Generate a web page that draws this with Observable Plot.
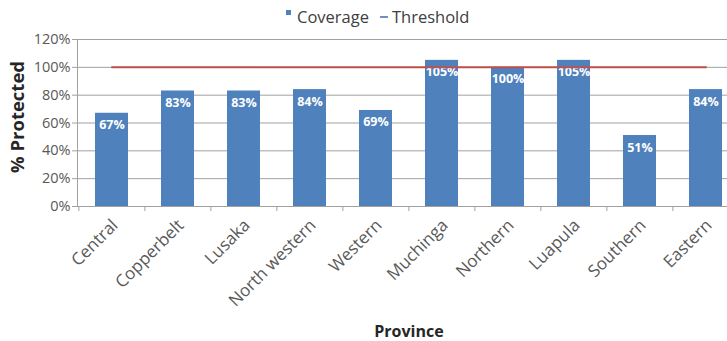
<!DOCTYPE html>
<html>
<head>
<meta charset="utf-8">
<script src="https://cdn.jsdelivr.net/npm/d3@7"></script>
<script src="https://cdn.jsdelivr.net/npm/@observablehq/plot@0.6"></script>
<style>
  body { margin: 0; background: #fff; font-family: "Open Sans", sans-serif; }
  #wrap { position: relative; width: 727px; height: 341px; overflow: hidden; background: #fff; }
  #legend { position: absolute; top: 5px; left: 286px; font-size: 16.5px; line-height: 24px; color: #404040; white-space: nowrap; }
  #legend .sq { display: inline-block; width: 5px; height: 5px; background: #4F81BD; vertical-align: 8px; margin-right: 6px; }
  #legend .dash { display: inline-block; width: 8px; height: 2px; background: #6F8FC4; vertical-align: 5px; margin: 0 4px 0 11px; }
  #chart { position: absolute; top: 30px; left: 0; width: 760px; }
</style>
</head>
<body>
<div id="wrap">
  <div id="legend"><span class="sq"></span>Coverage<span class="dash"></span>Threshold</div>
  <div id="chart"></div>
</div>
<script>
// Provinces and the share of the target population protected (%)
const provinces = ["Central", "Copperbelt", "Lusaka", "North western", "Western",
                   "Muchinga", "Northern", "Luapula", "Southern", "Eastern"];
const coverage  = [67, 83, 83, 84, 69, 105, 100, 105, 51, 84];
const threshold = [100, 100, 100, 100, 100, 100, 100, 100, 100, 100];
const yTicks    = [0, 20, 40, 60, 80, 100, 120];

const rows = provinces.map((p, i) => ({ province: p, coverage: coverage[i], threshold: threshold[i] }));

const W = 760, H = 311, ml = 77, mr = 20, mt = 9, mb = 135;
const step = (W - ml - mr) / provinces.length;
const grid = "#a0a0a0";

const chart = Plot.plot({
  width: W,
  height: H,
  marginLeft: ml,
  marginRight: mr,
  marginTop: mt,
  marginBottom: mb,
  style: { fontFamily: "Open Sans, sans-serif", background: "transparent", overflow: "visible", maxWidth: "none" },
  x: { domain: provinces, paddingInner: 0.5, paddingOuter: 0.25, label: null, axis: null },
  y: { domain: [0, 120], label: null, axis: null },
  marks: [
    Plot.gridY(yTicks, { stroke: grid, strokeOpacity: 1 }),
    Plot.frame({ anchor: "left", stroke: grid }),
    Plot.ruleY([0], { stroke: grid }),
    Plot.axisY(yTicks, {
      tickSize: 5, tickPadding: 2, tickFormat: d => d + "%",
      fontSize: 14.5, stroke: grid, fill: "#595959"
    }),
    // category boundary ticks below the baseline
    Plot.axisX({ tickSize: 5, tickFormat: () => "", dx: -step / 2, stroke: grid, fill: "none" }),
    Plot.axisX({ tickSize: 0, tickRotate: -45, tickPadding: 16, dx: 3, fontSize: 17, fill: "#595959" }),
    Plot.barY(rows, { x: "province", y: "coverage", fill: "#4F81BD" }),
    Plot.text(rows, {
      x: "province", y: "coverage", text: d => d.coverage + "%",
      dy: 12, fill: "white", fontWeight: "bold", fontSize: 12.5
    }),
    Plot.lineY(rows, { x: "province", y: "threshold", stroke: "#C0504D", strokeWidth: 2 }),
    Plot.text(["% Protected"], {
      text: d => d, frameAnchor: "left", textAnchor: "middle", dx: -59, dy: -6, rotate: -90,
      fontWeight: "bold", fontSize: 18.5, fill: "#262626"
    }),
    Plot.text(["Province"], {
      text: d => d, frameAnchor: "bottom", lineAnchor: "middle", dy: 125,
      fontWeight: "bold", fontSize: 16, fill: "#262626"
    })
  ]
});

document.getElementById("chart").appendChild(chart);
</script>
</body>
</html>
